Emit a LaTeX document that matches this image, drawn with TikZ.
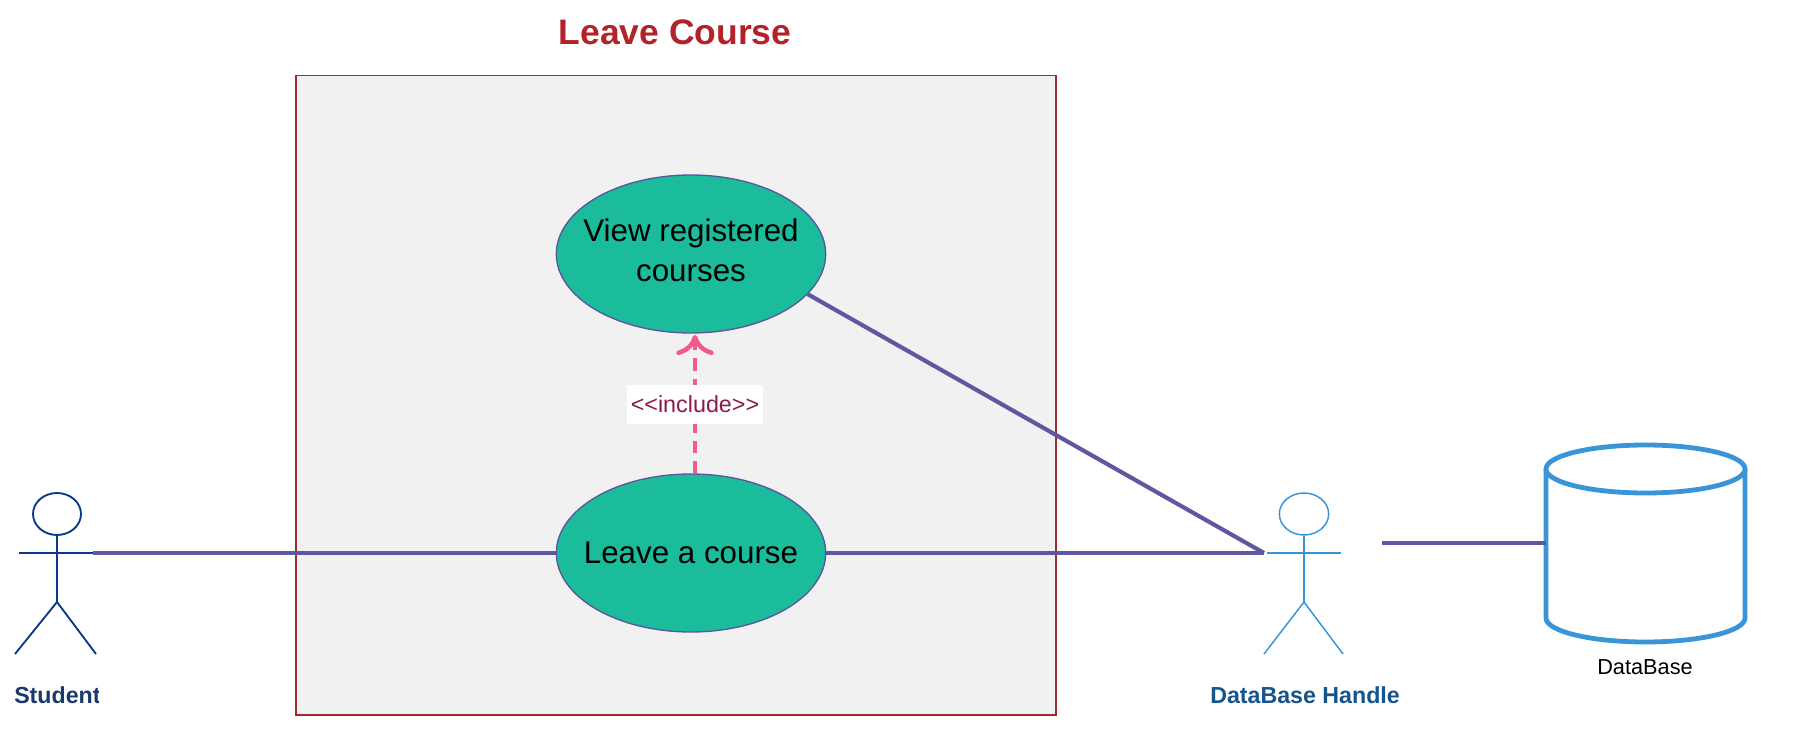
\documentclass[tikz,border=0pt]{standalone}
\usepackage{fontspec}
\setmainfont{Liberation Sans}
\usetikzlibrary{shapes.geometric,arrows.meta}
\tikzset{
    usecase/.style={draw={rgb, 255:red, 91; green, 85; blue, 160},line width=1pt,fill={rgb, 255:red, 27; green, 188; blue, 155},ellipse,minimum width=202pt,minimum height=118.5pt,inner sep=0pt,inner xsep=-14pt,align=center,font=\fontsize{23.5}{30.5}\selectfont},
    assoc/.style={draw={rgb, 255:red, 94; green, 88; blue, 162},line width=3.1pt},
    studentline/.style={draw={rgb, 255:red, 10; green, 58; blue, 138},line width=1.4pt},
    handlerline/.style={draw={rgb, 255:red, 58; green, 148; blue, 216},line width=1.1pt},
    dbaseline/.style={draw={rgb, 255:red, 58; green, 148; blue, 216},line width=3.6pt,line join=round},
}
\begin{document}
\begin{tikzpicture}[x=0.75pt,y=0.75pt,yscale=-1,xscale=1]
        \useasboundingbox (0,0) rectangle (1800,756);

        % Boundary
        \draw [color={rgb, 255:red, 164; green, 40; blue, 47},fill={rgb, 255:red, 241; green, 241; blue, 241},line width=1.1pt] (296,75.5) rectangle (1056,715);
        % Text Node
        \node (title) at (675,32) [text={rgb, 255:red, 178; green, 34; blue, 40},font=\fontsize{26.6}{32}\selectfont\bfseries] {Leave Course};

        % Use cases
        \node (viewcourses) at (691,254) [usecase,text depth=6pt] {View registered\\courses};
        \node (leavecourse) at (691,553) [usecase] {Leave a course};

        % Student
        \node (studenthead) at (57,514) [studentline,ellipse,minimum width=36pt,minimum height=31.5pt,inner sep=0pt] {};
        \coordinate (studenthip) at (57,602);
        \coordinate (studenthand) at (93,553);
        \draw [studentline] (studenthead.south) -- (studenthip);
        \draw [studentline] (19,553) -- (studenthand);
        \draw [studentline] (15,654) -- (studenthip) -- (96,654);
        \begin{scope}
            \clip (0,670) rectangle (98,720);
            \node (studentlabel) at (14,703) [anchor=base west,inner sep=0pt,text={rgb, 255:red, 26; green, 58; blue, 110},font=\fontsize{17.4}{20}\selectfont\bfseries] {Student};
        \end{scope}

        % DataBase Handler
        \node (handlerhead) at (1304,514) [handlerline,ellipse,minimum width=37pt,minimum height=31.5pt,inner sep=0pt] {};
        \coordinate (handlerhip) at (1304,602);
        \coordinate (handlerhand) at (1264,553);
        \draw [handlerline] (handlerhead.south) -- (handlerhip);
        \draw [handlerline] (1267,553) -- (1341,553);
        \draw [handlerline] (1264,654) -- (handlerhip) -- (1343,654);
        \begin{scope}
            \clip (1190,670) rectangle (1398,720);
            \node (handlerlabel) at (1210,703) [anchor=base west,inner sep=0pt,text={rgb, 255:red, 20; green, 84; blue, 143},font=\fontsize{17.4}{20}\selectfont\bfseries] {DataBase Handler};
        \end{scope}

        % DataBase
        \draw [dbaseline,fill=white] (1546,469) -- (1546,618) arc [start angle=180,end angle=0,x radius=99.5,y radius=24] -- (1745,469);
        \draw [dbaseline,fill=white] (1645.5,469) ellipse [x radius=99.5,y radius=24];
        \node (dbaselabel) at (1645,667) [font=\fontsize{16.3}{19}\selectfont] {DataBase};
        \coordinate (dbasewire) at (1382,543);
        \coordinate (dbaseside) at (1546,543);

        % Connectors
        \draw [assoc] (studenthand) -- (leavecourse);
        \draw [assoc] (leavecourse) -- (handlerhand);
        \draw [assoc] (viewcourses.-19.2) -- (handlerhand);
        \draw [assoc] (dbasewire) -- (dbaseside);

        % Include
        \coordinate (includebase) at (695,474);
        \coordinate (includetip) at (695,335);
        \draw [color={rgb, 255:red, 240; green, 90; blue, 140},line width=3.4pt,dash pattern=on 9.5pt off 6pt,-{To[length=15pt,width=28pt]}] (includebase) -- (includetip);
        \node (includelabel) at (695,404.5) [fill=white,minimum width=102pt,minimum height=29pt,inner sep=0pt,text={rgb, 255:red, 140; green, 26; blue, 76},font=\fontsize{17.5}{21}\selectfont] {{<}{<}include{>}{>}};
    \end{tikzpicture}
\end{document}
